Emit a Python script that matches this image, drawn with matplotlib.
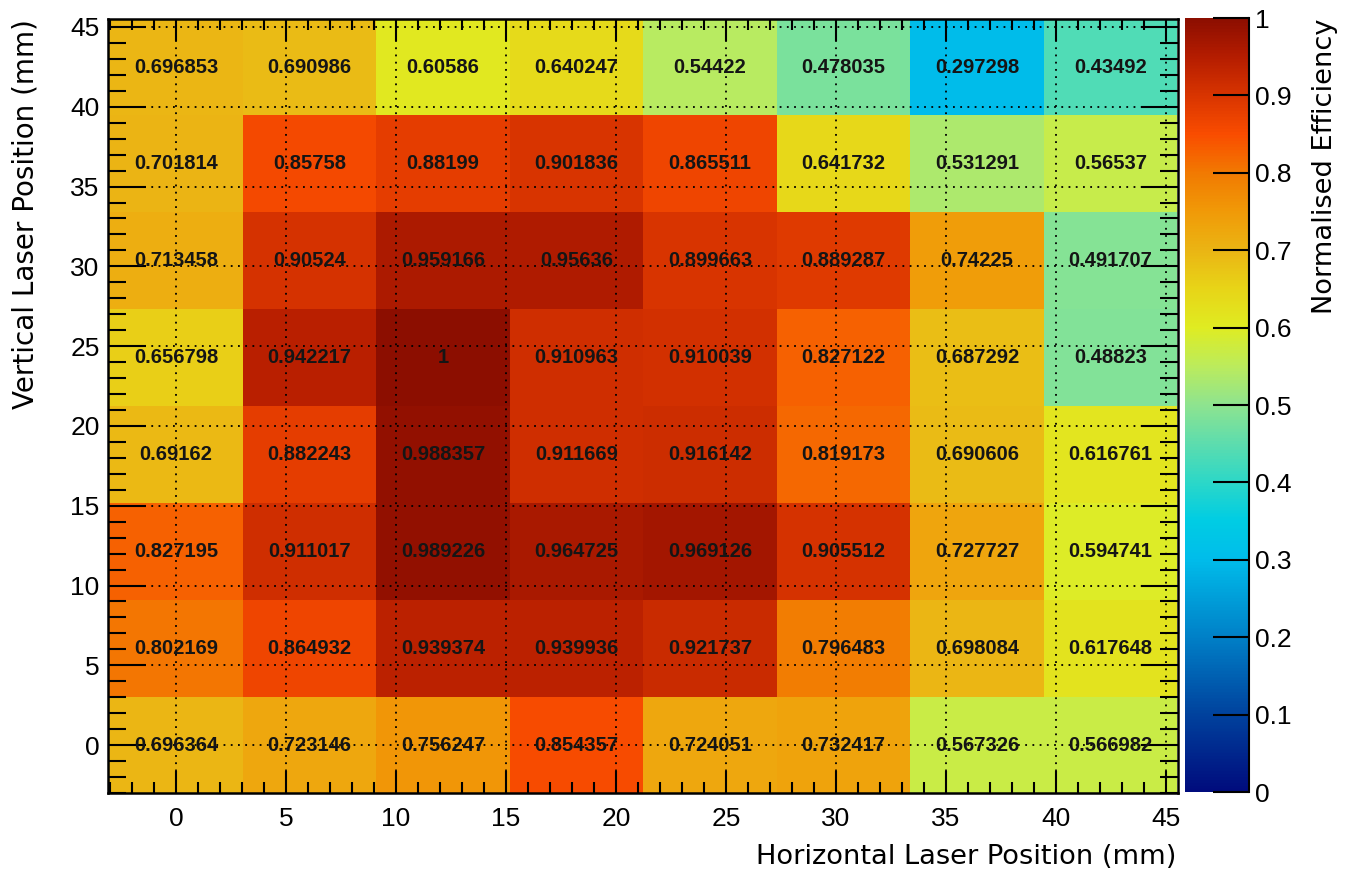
import numpy as np
import matplotlib
matplotlib.use("Agg")
import matplotlib.pyplot as plt
from matplotlib.colors import LinearSegmentedColormap
from matplotlib.ticker import MultipleLocator

plt.rcParams['font.family'] = ['Liberation Sans', 'DejaVu Sans']

# ---- data ----
x_centers = [0.0, 6.07, 12.14, 18.21, 24.28, 30.35, 36.42, 42.49]
y_centers = [0.0, 6.07, 12.14, 18.21, 24.28, 30.35, 36.42, 42.49]
# rows from bottom (y=0) to top (y~42.5), columns left to right
efficiency = [
    [0.696364, 0.723146, 0.756247, 0.854357, 0.724051, 0.732417, 0.567326, 0.566982],
    [0.802169, 0.864932, 0.939374, 0.939936, 0.921737, 0.796483, 0.698084, 0.617648],
    [0.827195, 0.911017, 0.989226, 0.964725, 0.969126, 0.905512, 0.727727, 0.594741],
    [0.69162, 0.882243, 0.988357, 0.911669, 0.916142, 0.819173, 0.690606, 0.616761],
    [0.656798, 0.942217, 1.0, 0.910963, 0.910039, 0.827122, 0.687292, 0.48823],
    [0.713458, 0.90524, 0.959166, 0.95636, 0.899663, 0.889287, 0.74225, 0.491707],
    [0.701814, 0.85758, 0.88199, 0.901836, 0.865511, 0.641732, 0.531291, 0.56537],
    [0.696853, 0.690986, 0.60586, 0.640247, 0.54422, 0.478035, 0.297298, 0.43492],
]
labels = [
    ["0.696364", "0.723146", "0.756247", "0.854357", "0.724051", "0.732417", "0.567326", "0.566982"],
    ["0.802169", "0.864932", "0.939374", "0.939936", "0.921737", "0.796483", "0.698084", "0.617648"],
    ["0.827195", "0.911017", "0.989226", "0.964725", "0.969126", "0.905512", "0.727727", "0.594741"],
    ["0.69162", "0.882243", "0.988357", "0.911669", "0.916142", "0.819173", "0.690606", "0.616761"],
    ["0.656798", "0.942217", "1", "0.910963", "0.910039", "0.827122", "0.687292", "0.48823"],
    ["0.713458", "0.90524", "0.959166", "0.95636", "0.899663", "0.889287", "0.74225", "0.491707"],
    ["0.701814", "0.85758", "0.88199", "0.901836", "0.865511", "0.641732", "0.531291", "0.56537"],
    ["0.696853", "0.690986", "0.60586", "0.640247", "0.54422", "0.478035", "0.297298", "0.43492"],
]
cbar_ticks = [0, 0.1, 0.2, 0.3, 0.4, 0.5, 0.6, 0.7, 0.8, 0.9, 1.0]
cbar_ticklabels = ["0", "0.1", "0.2", "0.3", "0.4", "0.5", "0.6", "0.7", "0.8", "0.9", "1"]

# ---- colormap (ROOT-like palette) ----
stops = [
    (0.00, "#000C7D"), (0.10, "#00439E"), (0.20, "#0081C8"), (0.30, "#00BDEB"),
    (0.35, "#00CDE4"), (0.40, "#2DD8C8"), (0.45, "#5EDDAE"), (0.50, "#8FE48F"),
    (0.55, "#BCEC5C"), (0.60, "#E0EC22"), (0.65, "#E8D518"), (0.70, "#EBB514"),
    (0.75, "#F19A08"), (0.80, "#F27A02"), (0.85, "#FA4D00"), (0.90, "#D93500"),
    (0.95, "#B51D00"), (1.00, "#8C0E00"),
]
cmap = LinearSegmentedColormap.from_list("rootpal", stops, N=256)

W, H = 1348, 872
fig = plt.figure(figsize=(W / 100, H / 100), dpi=100)

def fx(px):
    return px / W

def fy(py):
    return 1 - py / H

ax = fig.add_axes([fx(108), fy(793), fx(1178) - fx(108), fy(19) - fy(793)])

xc = np.array(x_centers)
yc = np.array(y_centers)
dx = xc[1] - xc[0]
dy = yc[1] - yc[0]
xe = np.concatenate([xc - dx / 2, [xc[-1] + dx / 2]])
ye = np.concatenate([yc - dy / 2, [yc[-1] + dy / 2]])
Z = np.array(efficiency)

mesh = ax.pcolormesh(xe, ye, Z, cmap=cmap, vmin=0, vmax=1, zorder=0)
ax.set_xlim(-3.09, 45.55)
ax.set_ylim(-3.0, 45.5)

for i in range(len(yc)):
    for j in range(len(xc)):
        ax.text(xc[j], yc[i], labels[i][j], ha='center', va='center',
                fontsize=14.5, fontweight='bold', color='#151515', zorder=3)

# grid
ax.xaxis.set_major_locator(MultipleLocator(5))
ax.xaxis.set_minor_locator(MultipleLocator(1))
ax.yaxis.set_major_locator(MultipleLocator(5))
ax.yaxis.set_minor_locator(MultipleLocator(1))
ax.grid(True, which='major', color='black', linestyle=(0, (1, 3)), linewidth=1.3, zorder=2)
ax.set_axisbelow(False)

ax.tick_params(axis='x', which='major', direction='in', length=16, width=1.5,
               top=True, bottom=True, labelsize=19, pad=10)
ax.tick_params(axis='x', which='minor', direction='in', length=8, width=1.5,
               top=True, bottom=True)
ax.tick_params(axis='y', which='major', direction='in', length=27, width=1.5,
               left=True, right=True, labelsize=19, pad=6)
ax.tick_params(axis='y', which='minor', direction='in', length=13, width=1.5,
               left=True, right=True)
ax.set_xticks([0, 5, 10, 15, 20, 25, 30, 35, 40, 45])
ax.set_yticks([0, 5, 10, 15, 20, 25, 30, 35, 40, 45])
for s in ax.spines.values():
    s.set_linewidth(1.8)
    s.set_zorder(5)

title_font = ['DejaVu Sans']
fig.text(fx(1176), fy(857), "Horizontal Laser Position (mm)", ha='right', va='center',
         fontsize=19.6, family=title_font)
fig.text(fx(26), fy(19), "Vertical Laser Position (mm)", ha='center', va='top',
         rotation=90, fontsize=20, family=title_font)

# colorbar
cax = fig.add_axes([fx(1185), fy(792), fx(1249) - fx(1185), fy(18) - fy(792)])
grad = np.linspace(0, 1, 512).reshape(-1, 1)
cax.imshow(grad, aspect='auto', cmap=cmap, origin='lower', extent=[0, 1, 0, 1],
           vmin=0, vmax=1)
cax.set_xlim(0, 1)
cax.set_ylim(0, 1)
cax.set_xticks([])
cax.yaxis.tick_right()
cax.set_yticks(cbar_ticks)
cax.set_yticklabels(cbar_ticklabels)
cax.tick_params(axis='y', direction='in', length=26, width=1.5, labelsize=19, pad=4,
                left=False, right=True)
for side in ['left', 'top', 'bottom']:
    cax.spines[side].set_visible(False)
cax.spines['right'].set_linewidth(1.5)

fig.text(fx(1325), fy(18), "Normalised Efficiency", ha='center', va='top',
         rotation=90, fontsize=19.6, family=title_font)

fig.savefig("out.png", dpi=100)
